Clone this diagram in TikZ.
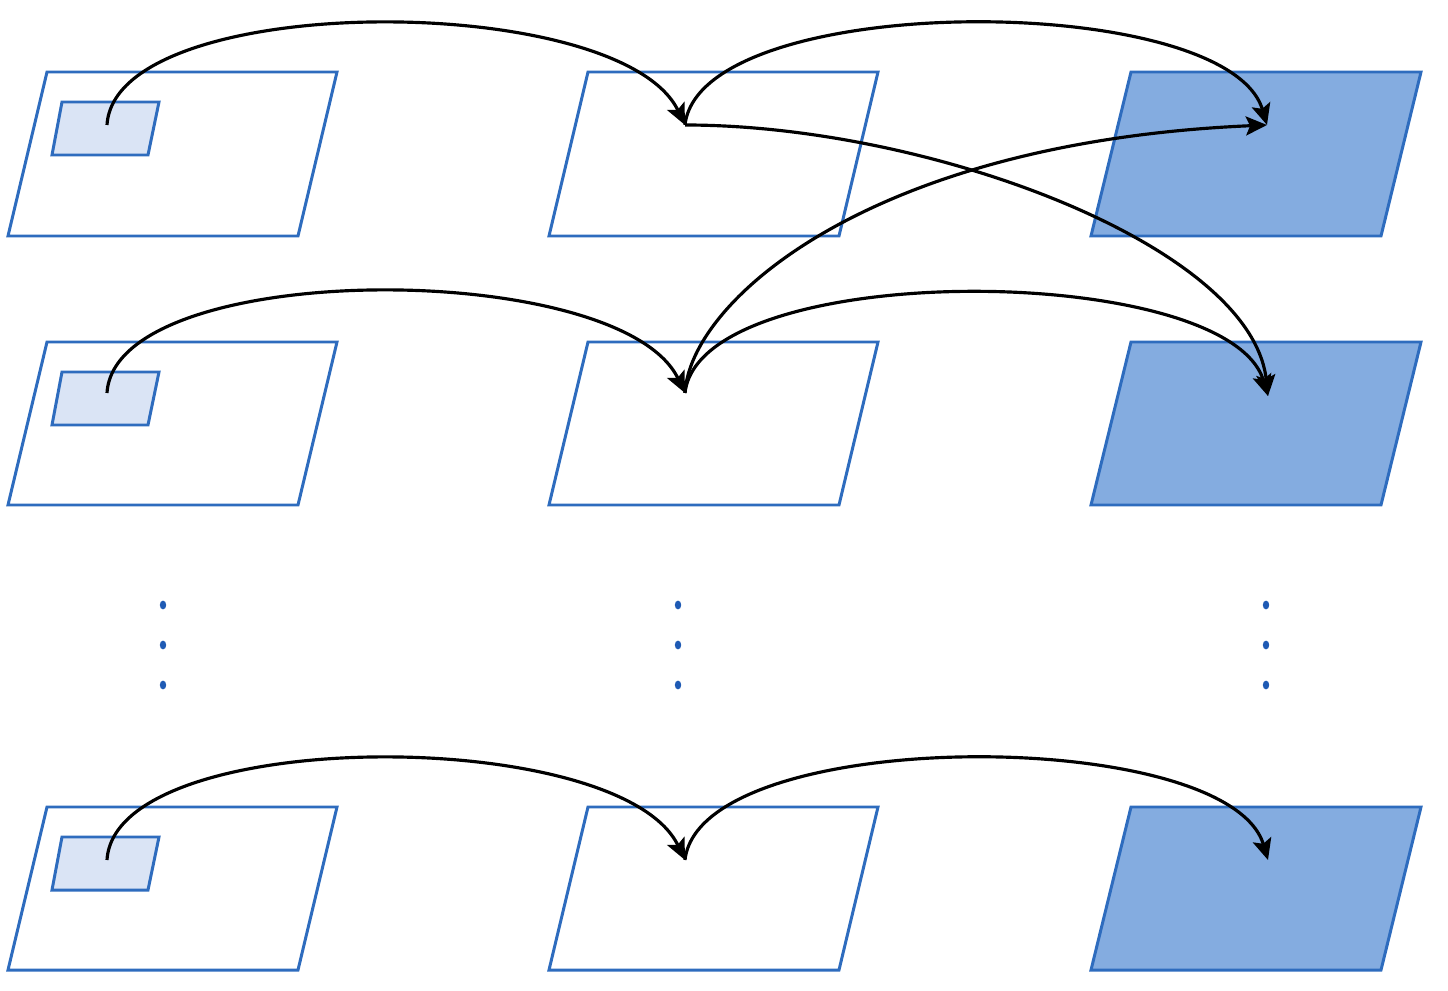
\documentclass[tikz,border=0pt]{standalone}
\usetikzlibrary{arrows.meta}
\definecolor{edgeblue}{RGB}{46,108,190}
\definecolor{fillblue}{RGB}{132,172,224}
\definecolor{lightblue}{RGB}{218,228,245}
\definecolor{dotblue}{RGB}{30,90,180}
\tikzset{
  frame/.style={draw=edgeblue, line width=0.85pt, line join=miter},
  outframe/.style={frame, fill=fillblue},
  patch/.style={frame, fill=lightblue},
  flow/.style={draw=black, line width=0.9pt, -{Stealth[length=6pt,width=5.4pt,inset=1.2pt]}},
  vdot/.style={fill=dotblue, draw=none}
}
\begin{document}
\begin{tikzpicture}[x=0.01cm, y=-0.01cm]
\useasboundingbox (0,0) rectangle (1448,991);
% rows: top y and bottom y
\foreach \t/\b in {72/236, 342/505, 807/970}{
  % left frame
  \draw[frame] (8,\b) -- (298,\b) -- (337,\t) -- (47,\t) -- cycle;
  % middle frame
  \draw[frame] (549,\b) -- (839,\b) -- (878,\t) -- (588,\t) -- cycle;
  % right frame (filled)
  \draw[outframe] (1091,\b) -- (1381,\b) -- (1421,\t) -- (1131,\t) -- cycle;
  % small patch
  \pgfmathsetmacro{\pt}{\t+30}
  \pgfmathsetmacro{\pb}{\t+83}
  \draw[patch] (52,\pb) -- (148,\pb) -- (159,\pt) -- (62,\pt) -- cycle;
}
% anchor points
\coordinate (s1) at (107,125);
\coordinate (m1) at (685,125);
\coordinate (r1) at (1267,125);
\coordinate (s2) at (107,393);
\coordinate (m2) at (685,393);
\coordinate (r2) at (1268,396);
\coordinate (s3) at (107,860);
\coordinate (m3) at (685,860);
\coordinate (r3) at (1268,860);
% row arcs
\draw[flow] (s1) .. controls +(8,-135) and +(-65,-135) .. (m1);
\draw[flow] (m1) .. controls +(15,-135) and +(-40,-135) .. (r1);
\draw[flow] (s2) .. controls +(8,-135) and +(-65,-135) .. (m2);
\draw[flow] (m2) .. controls +(15,-135) and +(-40,-135) .. (r2);
\draw[flow] (s3) .. controls +(8,-135) and +(-65,-135) .. (m3);
\draw[flow] (m3) .. controls +(15,-135) and +(-40,-135) .. (r3);
% cross arrows
\draw[flow] (m1) .. controls +(245,0) and +(-16,-150) .. (r2);
\draw[flow] (m2) .. controls +(5,-92) and +(-397,17) .. (r1);
% vertical dots
\foreach \x in {163,678,1266}{
  \foreach \y in {605,645,685}{
    \fill[vdot] (\x,\y) ellipse [x radius=3.2, y radius=4.4];
  }
}
\end{tikzpicture}
\end{document}
